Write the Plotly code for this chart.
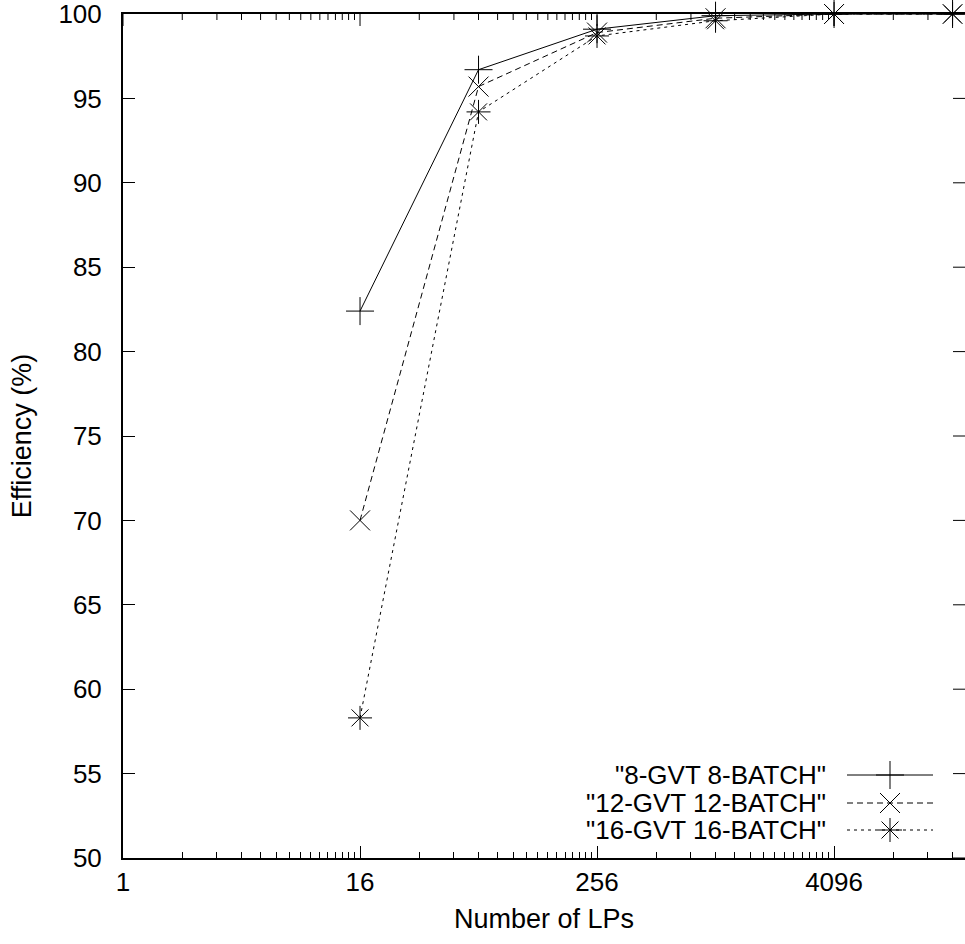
import math
import plotly.graph_objects as go

# ---------------- data ----------------
lps = [16, 64, 256, 1024, 4096, 16384]
eff_8gvt = [82.4, 96.7, 99.1, 99.9, 100.0, 100.0]
eff_12gvt = [70.0, 95.7, 98.9, 99.75, 100.0, 100.0]
eff_16gvt = [58.3, 94.2, 98.7, 99.6, 100.0, 100.0]
series_names = ['"8-GVT 8-BATCH"', '"12-GVT 12-BATCH"', '"16-GVT 16-BATCH"']

x_tick_vals = [1, 16, 256, 4096]
x_tick_text = ["1", "16", "256", "4096"]
y_tick_vals = [50, 55, 60, 65, 70, 75, 80, 85, 90, 95, 100]

# ---------------- layout constants ----------------
W, H = 965, 944
L, R, T, B = 123, 0, 14, 86
FONT = "Liberation Sans, Arial, Helvetica, sans-serif"
FS_TICK = 26
FS_TEXT = 27
FS_LEG = 26
MAJOR_LEN, MINOR_LEN = 12, 6
x_max_log = 14.21 * math.log10(2)

minor_vals = [m * 16 ** k for k in range(0, 4) for m in range(2, 16)]

styles = [
    ("solid", "cross-thin-open"),
    ("6px,4px", "x-thin-open"),
    ("3px,4px", "asterisk-open"),
]

fig = go.Figure()
for name, ys, (dash, sym) in zip(series_names, [eff_8gvt, eff_12gvt, eff_16gvt], styles):
    fig.add_trace(go.Scatter(
        x=lps, y=ys, name=name, mode="lines+markers",
        line=dict(color="black", width=1, dash=dash),
        marker=dict(symbol=sym, size=20, color="black", line=dict(color="black", width=1)),
        cliponaxis=False, showlegend=False,
    ))

# custom legend (text left of sample, gnuplot style) on a pixel-space overlay axis
leg_rows = [775, 803, 830]
for (name, (dash, sym), yy) in zip(series_names, styles, leg_rows):
    fig.add_trace(go.Scatter(
        x=[847, 933], y=[yy, yy], xaxis="x3", yaxis="y3", mode="lines",
        line=dict(color="black", width=1, dash=dash), showlegend=False, hoverinfo="skip",
    ))
    fig.add_trace(go.Scatter(
        x=[890], y=[yy], xaxis="x3", yaxis="y3", mode="markers",
        marker=dict(symbol=sym, size=20, color="black", line=dict(color="black", width=1)),
        showlegend=False, hoverinfo="skip", cliponaxis=False,
    ))
    fig.add_annotation(x=828, y=yy, xref="x3", yref="y3", text=name, showarrow=False,
                       xanchor="right", yanchor="middle",
                       font=dict(family=FONT, size=FS_LEG, color="black"))

# mirrored ticks (top and right), gnuplot style, placed at the axis tick values
# top ticks: position expressed as a fraction of the x-axis domain (log scale)
tick_line = dict(color="black", width=1)
for v in x_tick_vals + minor_vals:
    frac = math.log10(v) / x_max_log
    if frac > 1:
        continue
    ln = MAJOR_LEN if v in x_tick_vals else MINOR_LEN
    fig.add_shape(type="line", xref="x domain", x0=frac, x1=frac,
                  yref="paper", ysizemode="pixel", yanchor=1, y0=0, y1=-ln,
                  line=tick_line, layer="above")
for v in y_tick_vals:
    fig.add_shape(type="line", yref="y", y0=v, y1=v,
                  xref="paper", xsizemode="pixel", xanchor=1, x0=0, x1=-MAJOR_LEN,
                  line=tick_line, layer="above")

fig.update_layout(
    width=W, height=H,
    margin=dict(l=L, r=R, t=T, b=B, pad=0),
    paper_bgcolor="white", plot_bgcolor="white",
    font=dict(family=FONT, size=FS_TICK, color="black"),
    showlegend=False,
    xaxis=dict(
        type="log", range=[0, x_max_log],
        tickmode="array", tickvals=x_tick_vals, ticktext=x_tick_text,
        ticks="inside", ticklen=MAJOR_LEN, tickwidth=1, tickcolor="black",
        showline=True, linecolor="black", linewidth=2, mirror=True,
        showgrid=False, zeroline=False,
        ticklabelstandoff=0, ticklabeloverflow="allow",
        minor=dict(tickmode="array", tickvals=minor_vals, ticks="inside",
                   ticklen=MINOR_LEN, tickwidth=1, tickcolor="black", showgrid=False),
        title=dict(text="Number of LPs", standoff=13, font=dict(family=FONT, size=FS_TEXT)),
    ),
    yaxis=dict(
        range=[50, 100],
        tickmode="array", tickvals=y_tick_vals,
        ticks="inside", ticklen=MAJOR_LEN, tickwidth=1, tickcolor="black",
        showline=True, linecolor="black", linewidth=2,
        showgrid=False, zeroline=False,
        ticklabelstandoff=14, ticklabeloverflow="allow",
        title=dict(text="Efficiency (%)", standoff=19, font=dict(family=FONT, size=FS_TEXT)),
    ),
    xaxis3=dict(overlaying="x", range=[L, W - R], visible=False, anchor="y3"),
    yaxis3=dict(overlaying="y", range=[H - B, T], visible=False, anchor="x3"),
)

fig.write_html(
    "out.html",
    config={"displayModeBar": False},
    post_script="document.body.style.margin='0';document.body.style.overflow='hidden';",
)
